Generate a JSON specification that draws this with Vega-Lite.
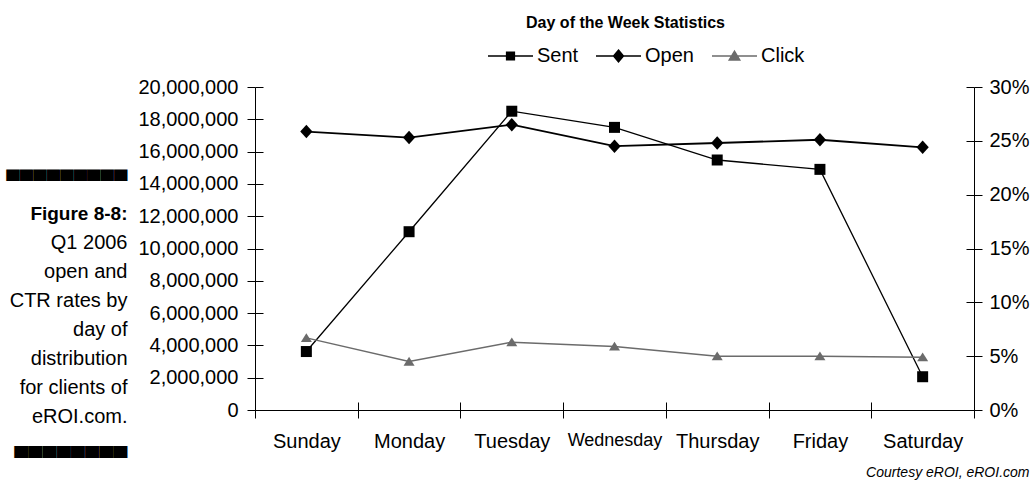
{
  "$schema": "https://vega.github.io/schema/vega-lite/v6.json",
  "width": 719,
  "height": 323,
  "autosize": "none",
  "padding": {"left": 255, "top": 87, "right": 60, "bottom": 75},
  "background": "white",
  "config": {
    "view": {"stroke": null},
    "font": "Liberation Sans",
    "axis": {"labelFont": "Liberation Sans", "titleFont": "Liberation Sans", "labelColor": "black", "titleColor": "black"}
  },
  "title": {
    "text": "Day of the Week Statistics",
    "font": "Liberation Sans",
    "fontSize": 16,
    "fontWeight": "bold",
    "color": "black",
    "anchor": "middle",
    "frame": "group",
    "offset": 15,
    "dx": 11
  },
  "data": {
    "values": [
      {"day": "Sunday", "series": "Sent", "value": 3620000},
      {"day": "Monday", "series": "Sent", "value": 11040000},
      {"day": "Tuesday", "series": "Sent", "value": 18500000},
      {"day": "Wednesday", "series": "Sent", "value": 17500000},
      {"day": "Thursday", "series": "Sent", "value": 15480000},
      {"day": "Friday", "series": "Sent", "value": 14900000},
      {"day": "Saturday", "series": "Sent", "value": 2060000},
      {"day": "Sunday", "series": "Open", "value": 0.2586},
      {"day": "Monday", "series": "Open", "value": 0.253},
      {"day": "Tuesday", "series": "Open", "value": 0.265},
      {"day": "Wednesday", "series": "Open", "value": 0.245},
      {"day": "Thursday", "series": "Open", "value": 0.248},
      {"day": "Friday", "series": "Open", "value": 0.251},
      {"day": "Saturday", "series": "Open", "value": 0.244},
      {"day": "Sunday", "series": "Click", "value": 0.067},
      {"day": "Monday", "series": "Click", "value": 0.045},
      {"day": "Tuesday", "series": "Click", "value": 0.063},
      {"day": "Wednesday", "series": "Click", "value": 0.059},
      {"day": "Thursday", "series": "Click", "value": 0.05},
      {"day": "Friday", "series": "Click", "value": 0.05},
      {"day": "Saturday", "series": "Click", "value": 0.049}
    ]
  },
  "encoding": {
    "x": {
      "field": "day",
      "type": "ordinal",
      "sort": ["Sunday", "Monday", "Tuesday", "Wednesday", "Thursday", "Friday", "Saturday"],
      "scale": {"type": "band", "paddingInner": 0, "paddingOuter": 0},
      "axis": {
        "title": ["▀▀▀▀▀▀▀▀▀", "Figure 8-8:"],
        "titleX": -128,
        "titleY": -230,
        "titleAlign": "right",
        "titleBaseline": "middle",
        "titleAngle": 0,
        "titleFontSize": 19,
        "titleFontWeight": "bold",
        "titleLineHeight": 33,
        "labelAngle": 0,
        "labelFontSize": {"condition": {"test": "datum.value === 'Wednesday'", "value": 18}, "value": 20},
        "labelPadding": 13,
        "tickBand": "extent",
        "tickSize": 8,
        "tickColor": "black",
        "domainColor": "black",
        "grid": true,
        "gridColor": "black",
        "gridOpacity": 1,
        "gridDash": [8, 2000],
        "gridDashOffset": 1693
      }
    }
  },
  "layer": [
    {
      "transform": [{"filter": "datum.series === 'Sent'"}],
      "encoding": {
        "y": {
          "field": "value",
          "type": "quantitative",
          "scale": {"domain": [0, 20000000], "nice": false},
          "axis": {
            "orient": "left",
            "values": [0, 2000000, 4000000, 6000000, 8000000, 10000000, 12000000, 14000000, 16000000, 18000000, 20000000],
            "format": ",d",
            "labelFontSize": 20,
            "labelPadding": 9,
            "tickSize": 8,
            "tickColor": "black",
            "domainColor": "black",
            "grid": true,
            "gridColor": "black",
            "gridOpacity": 1,
            "gridDash": [8, 2000],
            "title": ["Q1 2006", "open and", "CTR rates by", "day of", "distribution", "for clients of", "eROI.com.", "▄▄▄▄▄▄▄▄"],
            "titleAngle": 0,
            "titleAlign": "right",
            "titleBaseline": "middle",
            "titleX": -128,
            "titleY": 155,
            "titleFontSize": 20,
            "titleFontWeight": "normal",
            "titleLineHeight": 29
          }
        }
      },
      "layer": [
        {"mark": {"type": "line", "color": "black", "strokeWidth": 1.3}},
        {"mark": {"type": "point", "shape": "square", "size": 121, "filled": true, "color": "black", "opacity": 1}}
      ]
    },
    {
      "encoding": {
        "y": {
          "field": "value",
          "type": "quantitative",
          "scale": {"domain": [0, 0.3], "nice": false},
          "axis": {
            "orient": "right",
            "values": [0, 0.05, 0.1, 0.15, 0.2, 0.25, 0.3],
            "format": ".0%",
            "labelFontSize": 20,
            "labelPadding": 7,
            "tickSize": 8,
            "tickColor": "black",
            "domainColor": "black",
            "grid": true,
            "gridColor": "black",
            "gridOpacity": 1,
            "gridDash": [8, 2000],
            "title": "Courtesy eROI, eROI.com",
            "titleAngle": 0,
            "titleAlign": "right",
            "titleBaseline": "middle",
            "titleX": 55,
            "titleY": 385,
            "titleFontSize": 14,
            "titleFontStyle": "italic",
            "titleFontWeight": "normal"
          }
        }
      },
      "layer": [
        {"transform": [{"filter": "datum.series === 'Open'"}], "mark": {"type": "line", "color": "black", "strokeWidth": 1.8}},
        {"transform": [{"filter": "datum.series === 'Open'"}], "mark": {"type": "point", "shape": "M0,-1.1L1,0L0,1.1L-1,0Z", "size": 150, "filled": true, "color": "black", "opacity": 1}},
        {"transform": [{"filter": "datum.series === 'Click'"}], "mark": {"type": "line", "color": "#6b6b6b", "strokeWidth": 1.5}},
        {"transform": [{"filter": "datum.series === 'Click'"}], "mark": {"type": "point", "shape": "M0,-0.85L1,0.75H-1Z", "size": 121, "filled": true, "color": "#6b6b6b", "opacity": 1}}
      ]
    },
    {
      "transform": [{"filter": "datum.series === 'none'"}],
      "mark": {"type": "point", "filled": true, "opacity": 1, "strokeWidth": 1.3},
      "encoding": {
        "shape": {
          "field": "series",
          "type": "nominal",
          "scale": {"domain": ["Sent", "Open", "Click"], "range": ["M-2.5,0H2.5M-0.44,-0.44H0.44V0.44H-0.44Z", "M-2.5,0H2.5M0,-0.67L0.56,0L0,0.67L-0.56,0Z", "M-2.5,0H2.5M0,-0.55L0.6,0.45H-0.6Z"]},
          "legend": {"orient": "none", "legendX": 245.5, "legendY": -41, "direction": "horizontal", "title": null, "padding": 0, "labelFont": "Liberation Sans", "labelFontSize": 20, "labelColor": "black", "labelOffset": 16.5, "symbolSize": 324, "columnPadding": 14, "gridAlign": "each", "symbolStrokeWidth": 1.3, "symbolOpacity": 1}
        },
        "fill": {
          "field": "series",
          "type": "nominal",
          "scale": {"domain": ["Sent", "Open", "Click"], "range": ["#000000", "#000000", "#6b6b6b"]},
          "legend": {"orient": "none", "legendX": 245.5, "legendY": -41, "direction": "horizontal", "title": null, "padding": 0, "labelFont": "Liberation Sans", "labelFontSize": 20, "labelColor": "black", "labelOffset": 16.5, "symbolSize": 324, "columnPadding": 14, "gridAlign": "each", "symbolStrokeWidth": 1.3, "symbolOpacity": 1}
        },
        "stroke": {
          "field": "series",
          "type": "nominal",
          "scale": {"domain": ["Sent", "Open", "Click"], "range": ["#000000", "#000000", "#6b6b6b"]},
          "legend": {"orient": "none", "legendX": 245.5, "legendY": -41, "direction": "horizontal", "title": null, "padding": 0, "labelFont": "Liberation Sans", "labelFontSize": 20, "labelColor": "black", "labelOffset": 16.5, "symbolSize": 324, "columnPadding": 14, "gridAlign": "each", "symbolStrokeWidth": 1.3, "symbolOpacity": 1}
        }
      }
    }
  ],
  "resolve": {"scale": {"y": "independent"}}
}
